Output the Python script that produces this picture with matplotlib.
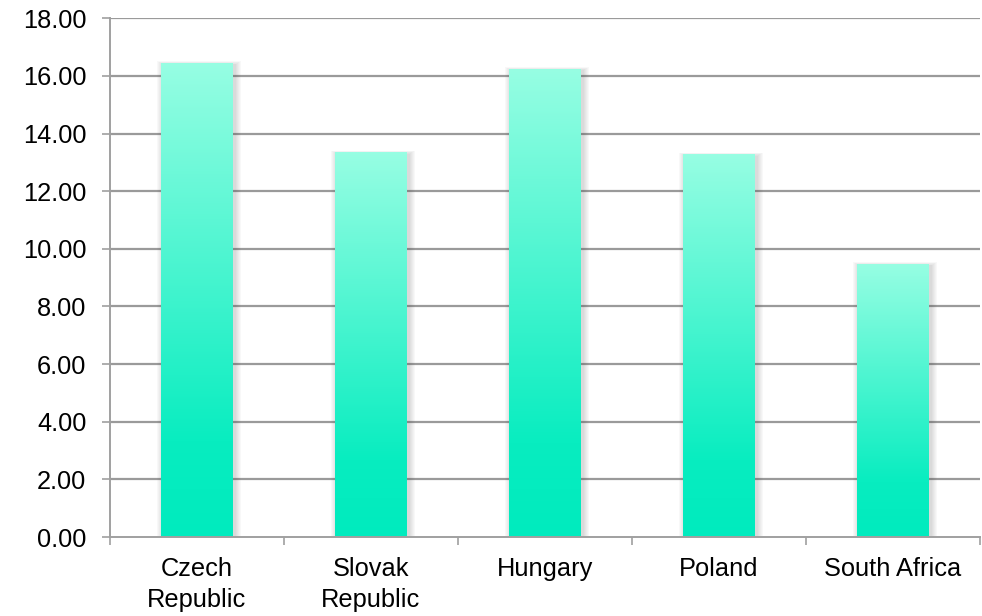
import numpy as np
import matplotlib
matplotlib.use("Agg")
import matplotlib.pyplot as plt
from matplotlib.colors import LinearSegmentedColormap
from matplotlib.patches import Rectangle

# values per country
countries = ["Czech\nRepublic", "Slovak\nRepublic", "Hungary", "Poland", "South Africa"]
values = [16.45, 13.35, 16.25, 13.28, 9.48]
y_ticks = [0, 2, 4, 6, 8, 10, 12, 14, 16, 18]

plt.rcParams['font.family'] = ['Liberation Sans', 'DejaVu Sans']

fig = plt.figure(figsize=(9.82, 6.16), dpi=100)
ax = fig.add_axes([0.112, 0.128, 0.886, 0.8425])

x = np.arange(len(countries))
width = 0.41

# gradient fill: solid at the bottom, fading lighter towards the top of each bar
grad = LinearSegmentedColormap.from_list(
    "bar_grad", [(0.0, "#00ebbe"), (0.2, "#08edc0"), (1.0, "#97fee3")])
ramp = np.linspace(0, 1, 256).reshape(-1, 1)

grid_color = "#9a9a9a"
for yv in y_ticks[1:]:
    ax.axhline(yv, color=grid_color, lw=1.6, zorder=1)

# pixel sizes in data units, used for the soft shadow
px_x = (len(countries)) / (0.886 * 982)
px_y = 18 / (0.8425 * 616)

for xi, v in zip(x, values):
    left = xi - width / 2
    # soft shadow, shifted a little to the right and down
    for i in range(1, 7):
        sh = Rectangle((left + 2 * px_x - i * px_x, 0),
                       width + 2 * i * px_x, v - 2 * px_y + i * px_y * 0.6,
                       facecolor="#505050", edgecolor="none", alpha=0.035, zorder=2)
        ax.add_patch(sh)
    bar = Rectangle((left, 0), width, v, facecolor="none", edgecolor="none", zorder=3)
    ax.add_patch(bar)
    im = ax.imshow(ramp, cmap=grad, aspect="auto", origin="lower",
                   extent=[left, left + width, 0, v], zorder=3)
    im.set_clip_path(bar)

ax.set_xlim(-0.5, len(countries) - 0.5)
ax.set_ylim(0, 18)

ax.set_yticks(y_ticks)
ax.set_yticklabels([f"{t:.2f}" for t in y_ticks])
ax.set_xticks(x)
ax.set_xticklabels(countries, linespacing=1.38)
ax.set_xticks(np.arange(-0.5, len(countries)), minor=True)

ax.tick_params(axis="x", which="major", length=0, pad=14, labelsize=18.3)
ax.tick_params(axis="x", which="minor", length=6, width=1.2, color="#a0a0a0", direction="out")
ax.tick_params(axis="y", length=6, width=1.2, color="#a0a0a0", pad=11, labelsize=18.3)

for s in ["top", "right"]:
    ax.spines[s].set_visible(False)
for s in ["left", "bottom"]:
    ax.spines[s].set_color("#a0a0a0")
    ax.spines[s].set_linewidth(1.4)
    ax.spines[s].set_zorder(4)

fig.savefig("out.png", dpi=100)
